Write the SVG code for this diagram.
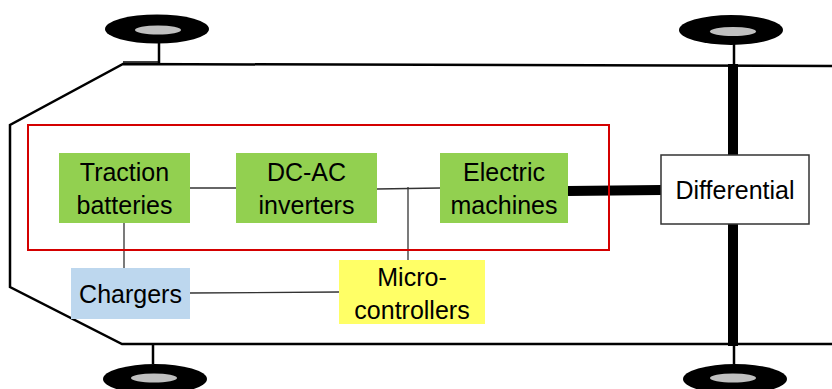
<svg xmlns="http://www.w3.org/2000/svg" width="832" height="389" viewBox="0 0 832 389">
<style>
.tire{fill:#000}
.hub{fill:#c0c0c0}
.body{fill:none;stroke:#000;stroke-width:2.5}
.stem{stroke:#000;stroke-width:2.5}
.wire{stroke:#333;stroke-width:1.3;fill:none}
.green{fill:#92d050}
.t{font-family:"Liberation Sans",Arial,sans-serif;font-size:25px;fill:#000;text-anchor:middle}
</style>
<rect width="832" height="389" fill="#fff"/>
<g id="chassis">
<path class="body" d="M832,66 L123,64 L10,125 L10,287 L122,344 L832,344"/>
<line x1="123" y1="62" x2="159" y2="62" stroke="#000" stroke-width="1.5"/>
<line class="stem" x1="159" y1="43" x2="159" y2="63"/>
<line class="stem" x1="153" y1="344" x2="153" y2="364"/>
<line class="stem" x1="734" y1="44" x2="734" y2="65"/>
<line class="stem" x1="734" y1="345" x2="734" y2="364"/>
<rect x="728" y="64" width="10" height="282" fill="#000"/>
</g>
<g id="wheel-tl"><ellipse class="tire" cx="157" cy="29" rx="52" ry="14.5"/><ellipse class="hub" cx="158" cy="30" rx="23" ry="4.5"/></g>
<g id="wheel-tr"><ellipse class="tire" cx="731" cy="30" rx="52" ry="15"/><ellipse class="hub" cx="733" cy="31.5" rx="23" ry="4.5"/></g>
<g id="wheel-bl"><ellipse class="tire" cx="155" cy="379" rx="52" ry="15"/><ellipse class="hub" cx="154" cy="378" rx="23" ry="4.5"/></g>
<g id="wheel-br"><ellipse class="tire" cx="735" cy="379" rx="52" ry="15"/><ellipse class="hub" cx="733" cy="378" rx="23" ry="4.5"/></g>
<g id="connectors">
<line class="wire" x1="190" y1="188" x2="237" y2="188"/>
<line class="wire" x1="377" y1="189" x2="440" y2="188"/>
<line class="wire" x1="408" y1="187" x2="408" y2="260"/>
<line class="wire" x1="124" y1="223" x2="124" y2="268"/>
<line class="wire" x1="190" y1="293" x2="339" y2="292"/>
<line x1="568" y1="191" x2="661" y2="190" stroke="#000" stroke-width="10"/>
</g>
<g id="powertrain"><rect x="28" y="125" width="581" height="125" fill="none" stroke="#d40000" stroke-width="2"/></g>
<g id="traction-batteries"><rect class="green" x="59" y="153" width="131" height="70"/><text class="t" x="124.5" y="181">Traction</text><text class="t" x="124.5" y="214">batteries</text></g>
<g id="dc-ac-inverters"><rect class="green" x="236" y="153" width="141" height="70"/><text class="t" x="306.5" y="181">DC-AC</text><text class="t" x="306.5" y="214">inverters</text></g>
<g id="electric-machines"><rect class="green" x="440" y="153" width="128" height="70"/><text class="t" x="504" y="181">Electric</text><text class="t" x="504" y="214">machines</text></g>
<g id="differential"><rect x="661" y="155" width="148" height="69" fill="#fff" stroke="#333" stroke-width="1.5"/><text class="t" x="735" y="199">Differential</text></g>
<g id="chargers"><rect x="71" y="268" width="119" height="51" fill="#bdd7ee"/><text class="t" x="130.5" y="303">Chargers</text></g>
<g id="micro-controllers"><rect x="339" y="260" width="146" height="64" fill="#ffff66"/><text class="t" x="412" y="286">Micro-</text><text class="t" x="412" y="319">controllers</text></g>
</svg>
